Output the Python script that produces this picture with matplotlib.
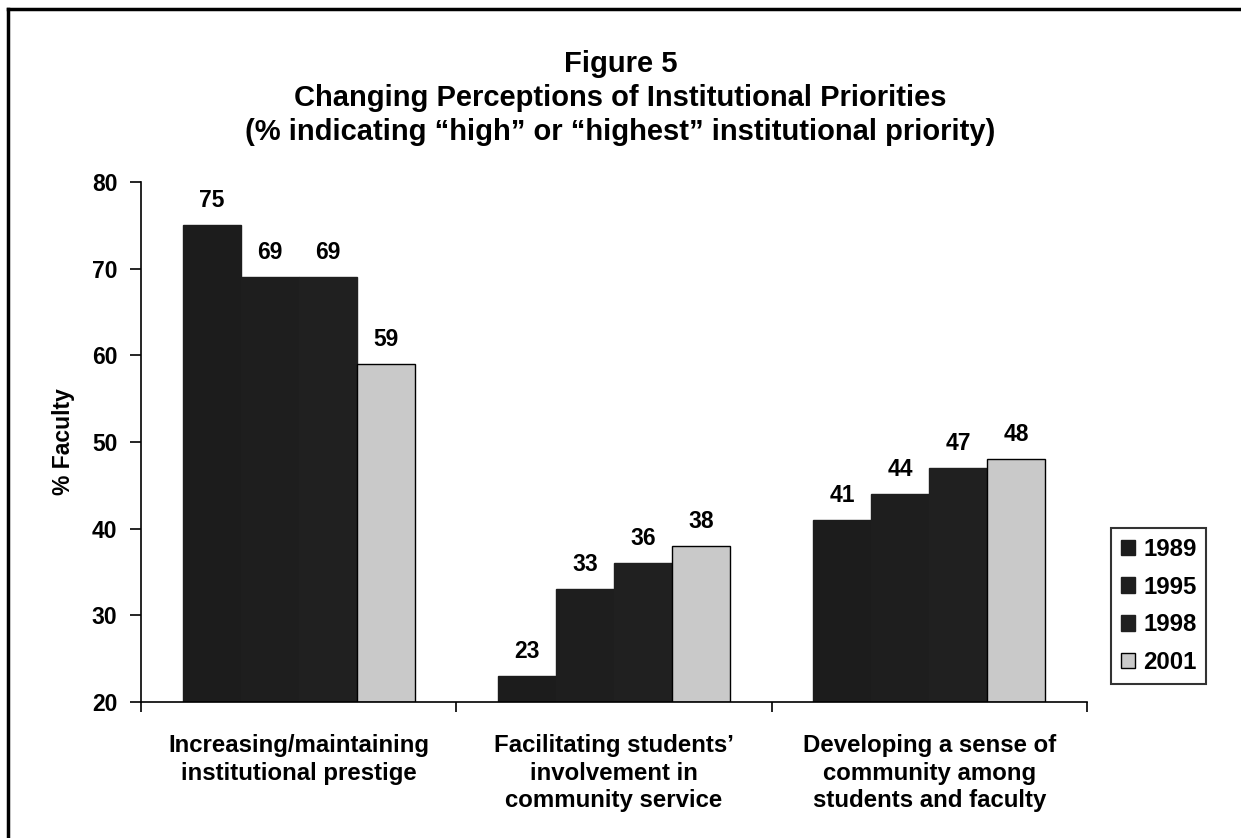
import numpy as np
import matplotlib
matplotlib.use("Agg")
import matplotlib.pyplot as plt
from matplotlib.lines import Line2D

categories = [
    "Increasing/maintaining\ninstitutional prestige",
    "Facilitating students\u2019\ninvolvement in\ncommunity service",
    "Developing a sense of\ncommunity among\nstudents and faculty",
]
years = ["1989", "1995", "1998", "2001"]
values = {
    "1989": [75, 23, 41],
    "1995": [69, 33, 44],
    "1998": [69, 36, 47],
    "2001": [59, 38, 48],
}
colors = ["#1c1c1c", "#1e1e1e", "#202020", "#c9c9c9"]

plt.rcParams["font.family"] = ["Liberation Sans", "DejaVu Sans"]
plt.rcParams["font.weight"] = "bold"

W, H = 1241, 838
fig = plt.figure(figsize=(W / 100, H / 100), dpi=100)
ax = fig.add_axes([141 / W, 1 - 702 / H, (1087 - 141) / W, (702 - 182) / H])

# border: only the top and left edges show in the scan
fig.add_artist(Line2D([8 / W, 1], [1 - 9.5 / H, 1 - 9.5 / H], transform=fig.transFigure,
                      color="black", linewidth=2.5))
fig.add_artist(Line2D([8 / W, 8 / W], [0, 1 - 9.5 / H], transform=fig.transFigure,
                      color="black", linewidth=2.5))

x = np.arange(len(categories))
width = 0.184
for i, year in enumerate(years):
    pos = x - 1.5 * width + i * width
    edge = "black" if year == "2001" else colors[i]
    bars = ax.bar(pos, np.array(values[year]) - 20, width, bottom=20, color=colors[i],
                  edgecolor=edge, linewidth=1.0, label=year)
    for b, v in zip(bars, values[year]):
        ax.text(b.get_x() + b.get_width() / 2, v + 1.5, str(v), ha="center", va="bottom",
                fontsize=16.5, fontweight="bold")

ax.set_xlim(-0.5, 2.5)
ax.set_ylim(20, 80)
ax.set_yticks(range(20, 81, 10))
ax.set_xticks([-0.5, 0.5, 1.5, 2.5])
ax.set_xticklabels([])
ax.tick_params(axis="x", length=7, direction="out", width=1.2)
ax.tick_params(axis="y", length=8, direction="out", width=1.2, labelsize=16.5, pad=9)
for lbl in ax.get_yticklabels():
    lbl.set_fontweight("bold")
for s in ["left", "bottom"]:
    ax.spines[s].set_linewidth(1.2)
ax.spines["top"].set_visible(False)
ax.spines["right"].set_visible(False)
for i, c in enumerate(categories):
    ax.text(i, 16.3, c, ha="center", va="top", fontsize=17.3, fontweight="bold",
            linespacing=1.25)
ax.set_ylabel("% Faculty", fontsize=16.5, fontweight="bold", labelpad=12)

title_lines = [
    "Figure 5",
    "Changing Perceptions of Institutional Priorities",
    "(% indicating \u201chigh\u201d or \u201chighest\u201d institutional priority)",
]
for k, t in enumerate(title_lines):
    fig.text(0.5, 1 - (64 + 34 * k) / H, t, ha="center", va="center", fontsize=21,
             fontweight="bold")

leg = fig.legend(loc="upper left", bbox_to_anchor=(1111 / W, 1 - 528 / H),
                 frameon=True, fancybox=False, edgecolor="black", fontsize=17.3,
                 handlelength=0.6, handleheight=0.6, handletextpad=0.35,
                 borderpad=0.4, labelspacing=0.62, borderaxespad=0)
leg.get_frame().set_linewidth(1.5)

fig.savefig("out.png", dpi=100)
